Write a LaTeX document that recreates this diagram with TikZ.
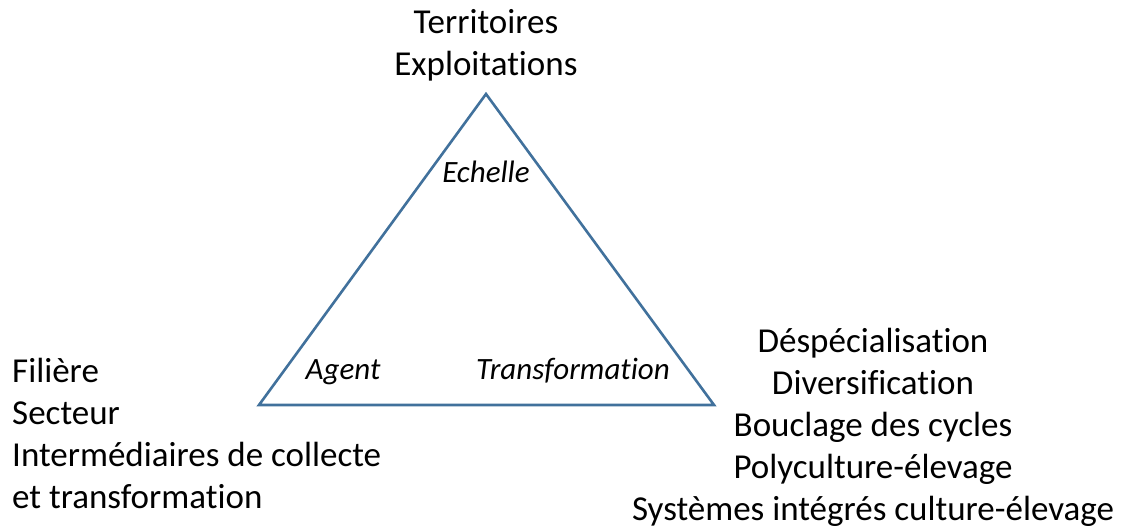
\documentclass[tikz,border=0pt]{standalone}
\usepackage{fontspec}
\setmainfont[Ligatures=NoCommon]{Carlito}
\usetikzlibrary{positioning}
\definecolor{triblue}{RGB}{65,113,156}
\tikzset{
  lbl/.style={inner sep=0pt, align=center, font=\fontsize{35}{42}\selectfont},
  lbll/.style={lbl, align=left},
  role/.style={inner sep=0pt, font=\fontsize{31}{36}\selectfont\itshape},
  tri/.style={draw=triblue, line width=2.6pt, line join=miter}
}

\begin{document}
\begin{tikzpicture}[x=1pt, y=-1pt]
		\useasboundingbox (0,0) rectangle (1125,526);

		\coordinate (T) at (486, 94);
		\coordinate (L) at (259, 405);
		\coordinate (R) at (714, 405);

		\draw[tri] (T) -- (L) -- (R) -- cycle;

		\node[role, anchor=base] (echelle) at (486, 183) {Echelle};
		\node[role, anchor=base] (agent)   at (343, 380) {Agent};
		\node[role, anchor=base] (transf)  at (573, 380) {Transformation};

		% base anchor sits on the last line
		\node[lbl,  anchor=base]      (scale)  at (486, 76)  {Territoires\\Exploitations};
		\node[lbll, anchor=base west] (actor)  at (12, 508)  {Filière\\Secteur\\Intermédiaires de collecte\\et transformation};
		\node[lbl,  anchor=base]      (change) at (873, 520) {Déspécialisation\\Diversification\\Bouclage des cycles\\Polyculture-élevage\\Systèmes intégrés culture-élevage};
	\end{tikzpicture}
\end{document}
